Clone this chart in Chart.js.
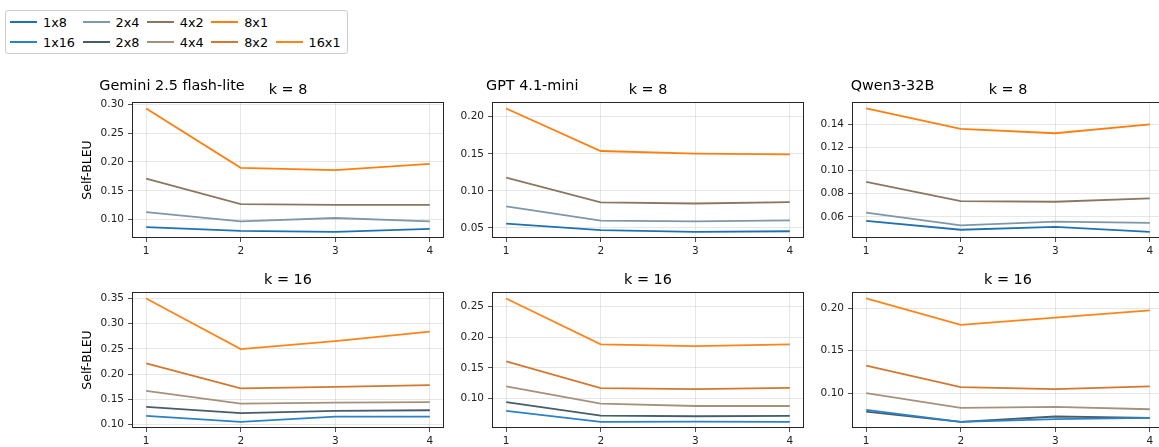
<!DOCTYPE html>
<html><head><meta charset="utf-8">
<script src="https://cdn.jsdelivr.net/npm/chart.js@4.4.1/dist/chart.umd.min.js"></script>
<style>
body{margin:0;width:1159px;height:447px;overflow:hidden;background:#fff;position:relative;font-family:"DejaVu Sans",sans-serif;color:#000}
canvas.cv{position:absolute}
.frame{position:absolute;box-sizing:border-box;border:1px solid #262626;pointer-events:none}
.t{position:absolute;white-space:nowrap;line-height:1}
.title{font-size:14.4px;transform:translateX(-50%)}
.model{font-size:14.4px}
.ylab{font-size:12.5px;transform:translate(-50%,-50%) rotate(-90deg)}
#legend{position:absolute;left:5px;top:10px;border:1px solid #cccccc;border-radius:3px;padding:1.5px 6px 1.5px 4px;display:grid;grid-template-rows:19.7px 19.7px;column-gap:7.5px;font-size:12.8px;background:#fff}
#legend .it{display:flex;align-items:center;white-space:nowrap}
#legend .sw{display:inline-block;width:27px;height:2px;margin-right:6px}
</style>
</head><body>
<div id="legend"></div>
<script>
// ---------- data ----------
const steps = [1, 2, 3, 4];
const models = ['Gemini 2.5 flash-lite', 'GPT 4.1-mini', 'Qwen3-32B'];
const kValues = [8, 16];
const k8Configs = ['1x8', '2x4', '4x2', '8x1'];
const k16Configs = ['1x16', '2x8', '4x4', '8x2', '16x1'];

// Self-BLEU, one row per config (same order as configs)
const gemini_k8 = [
  [0.0869, 0.0806, 0.0789, 0.0840],
  [0.1131, 0.0971, 0.1029, 0.0971],
  [0.1709, 0.1269, 0.1257, 0.1257],
  [0.2926, 0.1897, 0.1857, 0.1966]
];
const gpt_k8 = [
  [0.0558, 0.0469, 0.0447, 0.0455],
  [0.0789, 0.0598, 0.0589, 0.0602],
  [0.1177, 0.0843, 0.0829, 0.0847],
  [0.2111, 0.1537, 0.1501, 0.1493]
];
const qwen_k8 = [
  [0.0566, 0.0489, 0.0514, 0.0471],
  [0.0637, 0.0526, 0.0560, 0.0549],
  [0.0903, 0.0737, 0.0731, 0.0760],
  [0.1537, 0.1360, 0.1323, 0.1400]
];
const gemini_k16 = [
  [0.1171, 0.1053, 0.1158, 0.1158],
  [0.1348, 0.1224, 0.1270, 0.1283],
  [0.1669, 0.1413, 0.1432, 0.1445],
  [0.2214, 0.1715, 0.1748, 0.1781],
  [0.3500, 0.2496, 0.2654, 0.2844]
];
const gpt_k16 = [
  [0.0794, 0.0616, 0.0621, 0.0616],
  [0.0940, 0.0718, 0.0707, 0.0713],
  [0.1195, 0.0913, 0.0875, 0.0875],
  [0.1607, 0.1168, 0.1152, 0.1173],
  [0.2635, 0.1883, 0.1856, 0.1883]
];
const qwen_k16 = [
  [0.0802, 0.0661, 0.0693, 0.0708],
  [0.0782, 0.0661, 0.0724, 0.0708],
  [0.1000, 0.0825, 0.0837, 0.0809],
  [0.1323, 0.1070, 0.1047, 0.1078],
  [0.2113, 0.1802, 0.1887, 0.1973]
];

// y tick labels per panel
const yTicks_gemini_k8 = [0.10, 0.15, 0.20, 0.25, 0.30];
const yTicks_gpt_k8 = [0.05, 0.10, 0.15, 0.20];
const yTicks_qwen_k8 = [0.06, 0.08, 0.10, 0.12, 0.14];
const yTicks_gemini_k16 = [0.10, 0.15, 0.20, 0.25, 0.30, 0.35];
const yTicks_gpt_k16 = [0.10, 0.15, 0.20, 0.25];
const yTicks_qwen_k16 = [0.10, 0.15, 0.20];

// ---------- styles ----------
const k8Colors = ['#1f72b2', '#7f97a8', '#8b7761', '#ff7f0e'];
const k16Colors = ['#2b82c4', '#475d6b', '#a6927c', '#d4782f', '#ff8418'];

const panels = [
  {row: 0, col: 0, data: gemini_k8, ticks: yTicks_gemini_k8},
  {row: 0, col: 1, data: gpt_k8, ticks: yTicks_gpt_k8},
  {row: 0, col: 2, data: qwen_k8, ticks: yTicks_qwen_k8},
  {row: 1, col: 0, data: gemini_k16, ticks: yTicks_gemini_k16},
  {row: 1, col: 1, data: gpt_k16, ticks: yTicks_gpt_k16},
  {row: 1, col: 2, data: qwen_k16, ticks: yTicks_qwen_k16}
];

// layout
const plotLefts = [132, 492, 852];
const plotTops = [102, 292];
const modelLefts = [99.3, 486, 850.7];
const plotW = 312, plotH = 136;
const yAxisW = 60, xAxisH = 30, padTop = 10, padRight = 4;

// ---------- legend ----------
const legend = document.getElementById('legend');
[[k8Configs, k8Colors], [k16Configs, k16Colors]].forEach(([cfg, col], r) => {
  cfg.forEach((name, i) => {
    const it = document.createElement('div');
    it.className = 'it';
    it.style.gridRow = String(r + 1);
    it.style.gridColumn = String(i + 1);
    it.innerHTML = '<span class="sw" style="background:' + col[i] + '"></span><span>' + name + '</span>';
    legend.appendChild(it);
  });
});

const tickFont = {family: '"DejaVu Sans", sans-serif', size: 10.5};

panels.forEach(p => {
  const left = plotLefts[p.col] - yAxisW;
  const top = plotTops[p.row] - padTop;
  const cv = document.createElement('canvas');
  cv.className = 'cv';
  cv.style.left = left + 'px';
  cv.style.top = top + 'px';
  const W = yAxisW + plotW + padRight, H = padTop + plotH + xAxisH;
  cv.style.width = W + 'px';
  cv.style.height = H + 'px';
  cv.width = W; cv.height = H;
  document.body.appendChild(cv);

  const cfgs = p.row === 0 ? k8Configs : k16Configs;
  const cols = p.row === 0 ? k8Colors : k16Colors;
  const all = p.data.flat();
  const lo = Math.min(...all), hi = Math.max(...all), m = (hi - lo) * 0.05;
  const xm = (steps[steps.length - 1] - steps[0]) * 0.05;

  new Chart(cv, {
    type: 'line',
    data: {
      datasets: p.data.map((vals, i) => ({
        label: cfgs[i],
        data: vals.map((v, j) => ({x: steps[j], y: v})),
        borderColor: cols[i],
        backgroundColor: cols[i],
        borderWidth: 1.8,
        pointRadius: 0,
        tension: 0,
        fill: false
      }))
    },
    options: {
      responsive: false,
      animation: false,
      devicePixelRatio: 1,
      layout: {padding: {top: padTop, right: padRight, left: 0, bottom: 0}},
      plugins: {legend: {display: false}, tooltip: {enabled: false}, title: {display: false}},
      scales: {
        x: {
          type: 'linear',
          min: steps[0] - xm,
          max: steps[steps.length - 1] + xm,
          afterBuildTicks: s => { s.ticks = steps.map(v => ({value: v})); },
          afterFit: s => { s.height = xAxisH; },
          grid: {color: 'rgba(176,176,176,0.3)', lineWidth: 1, drawTicks: true, tickLength: 4, tickColor: '#262626', tickWidth: 0.8},
          border: {display: false},
          ticks: {font: tickFont, color: '#222', padding: 3, maxRotation: 0, callback: v => String(v)}
        },
        y: {
          type: 'linear',
          min: lo - m,
          max: hi + m,
          afterBuildTicks: s => { s.ticks = p.ticks.map(v => ({value: v})); },
          afterFit: s => { s.width = yAxisW; },
          grid: {color: 'rgba(176,176,176,0.3)', lineWidth: 1, drawTicks: true, tickLength: 4, tickColor: '#262626', tickWidth: 0.8},
          border: {display: false},
          ticks: {font: tickFont, color: '#222', padding: 4, callback: v => Number(v).toFixed(2)}
        }
      }
    }
  });

  // axes frame
  const fr = document.createElement('div');
  fr.className = 'frame';
  fr.style.left = plotLefts[p.col] + 'px';
  fr.style.top = plotTops[p.row] + 'px';
  fr.style.width = plotW + 'px';
  fr.style.height = plotH + 'px';
  document.body.appendChild(fr);

  // subplot title
  const t = document.createElement('div');
  t.className = 't title';
  t.textContent = 'k = ' + kValues[p.row];
  t.style.left = (plotLefts[p.col] + plotW / 2) + 'px';
  t.style.top = (plotTops[p.row] - 20) + 'px';
  document.body.appendChild(t);

  if (p.row === 0) {
    const mn = document.createElement('div');
    mn.className = 't model';
    mn.textContent = models[p.col];
    mn.style.left = modelLefts[p.col] + 'px';
    mn.style.top = (plotTops[p.row] - 24) + 'px';
    document.body.appendChild(mn);
  }
  if (p.col === 0) {
    const yl = document.createElement('div');
    yl.className = 't ylab';
    yl.textContent = 'Self-BLEU';
    yl.style.left = (plotLefts[p.col] - 45) + 'px';
    yl.style.top = (plotTops[p.row] + plotH / 2) + 'px';
    document.body.appendChild(yl);
  }
});
</script>
</body></html>
